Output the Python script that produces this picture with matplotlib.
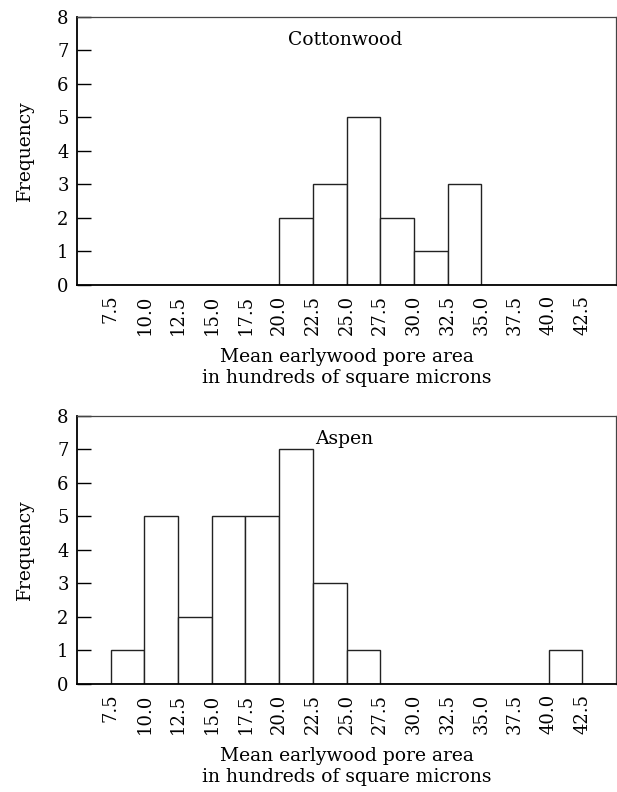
import matplotlib.pyplot as plt

bin_edges = [7.5, 10.0, 12.5, 15.0, 17.5, 20.0, 22.5, 25.0, 27.5, 30.0, 32.5, 35.0, 37.5, 40.0]
cottonwood = [0, 0, 0, 0, 0, 2, 3, 5, 2, 1, 3, 0, 0, 0]
aspen = [1, 5, 2, 5, 5, 7, 3, 1, 0, 0, 0, 0, 0, 1]
tick_vals = [7.5, 10.0, 12.5, 15.0, 17.5, 20.0, 22.5, 25.0, 27.5, 30.0, 32.5, 35.0, 37.5, 40.0, 42.5]

plt.rcParams['font.family'] = ['DejaVu Serif']

fig = plt.figure(figsize=(6.17, 7.92), dpi=100)
ax1 = fig.add_axes([0.1248, 0.6402, 0.8736, 0.3384])
ax2 = fig.add_axes([0.1248, 0.1364, 0.8736, 0.3384])

for ax, counts, name, tx in [(ax1, cottonwood, "Cottonwood", 0.391),
                             (ax2, aspen, "Aspen", 0.442)]:
    ax.bar(bin_edges, counts, width=2.5, align='edge', color='white',
           edgecolor='#222222', linewidth=1.0)
    ax.set_xlim(5, 45)
    ax.set_ylim(0, 8)
    ax.set_yticks(range(9))
    ax.set_xticks(tick_vals)
    ax.set_xticklabels([f"{v:.1f}" for v in tick_vals], rotation=90)
    ax.tick_params(axis='y', direction='in', length=10, width=1, pad=6, labelsize=13)
    ax.tick_params(axis='x', length=0, pad=7, labelsize=13)
    ax.spines['left'].set_linewidth(1.3)
    ax.spines['bottom'].set_linewidth(1.3)
    for s in ['top', 'right']:
        ax.spines[s].set_linewidth(0.9)
        ax.spines[s].set_color('#444444')
    ax.set_ylabel("Frequency", fontsize=13.5, labelpad=17)
    ax.set_xlabel("Mean earlywood pore area\nin hundreds of square microns",
                  fontsize=13.5, labelpad=9, linespacing=1.25)
    ax.text(tx, 0.915, name, transform=ax.transAxes, ha='left', va='center',
            fontsize=13.5)

fig.savefig("out.png", dpi=100)
